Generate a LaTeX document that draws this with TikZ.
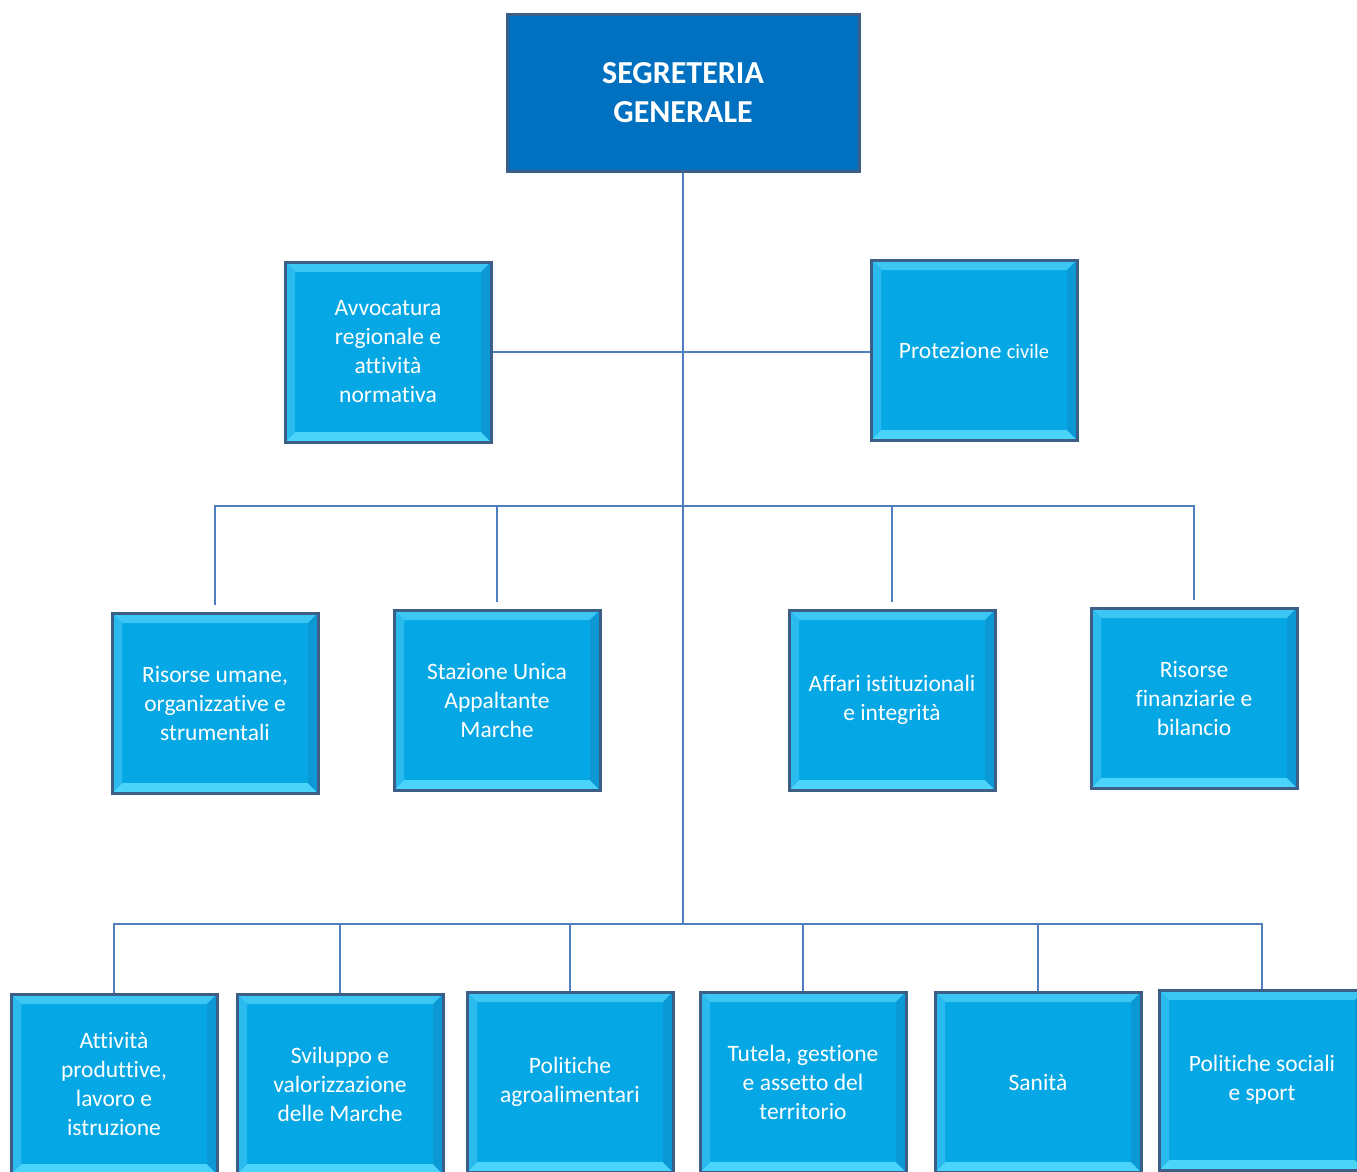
\documentclass[tikz,border=0pt]{standalone}
\usepackage{fontspec}
\setmainfont[Ligatures=NoCommon]{Carlito}
\definecolor{headblue}{HTML}{0070C0}
\definecolor{unitblue}{HTML}{05A8E4}
\definecolor{edgeblue}{HTML}{3D5F87}
\definecolor{linkblue}{HTML}{4F7FBF}
\definecolor{bevtop}{HTML}{3CC6F4}
\definecolor{bevleft}{HTML}{2BBAEE}
\definecolor{bevbottom}{HTML}{4AD4FA}
\definecolor{bevright}{HTML}{0B98D4}
\tikzset{
  link/.style={draw=linkblue, line width=1.6pt},
  headbox/.style={draw=edgeblue, line width=3pt, fill=headblue, minimum width=352pt,
    minimum height=156pt, text=white, align=center,
    font=\bfseries\fontsize{32}{39}\selectfont},
  unitbox/.style={draw=edgeblue, line width=3pt, fill=unitblue, minimum width=206pt,
    minimum height=180pt, inner sep=0pt, text=white, align=center,
    font=\fontsize{23.5}{29}\selectfont,
    path picture={
      \fill[bevtop] (path picture bounding box.north west) -- (path picture bounding box.north east)
        -- ([xshift=-10pt,yshift=-10pt]path picture bounding box.north east)
        -- ([xshift=10pt,yshift=-10pt]path picture bounding box.north west) -- cycle;
      \fill[bevbottom] (path picture bounding box.south west) -- (path picture bounding box.south east)
        -- ([xshift=-10pt,yshift=10pt]path picture bounding box.south east)
        -- ([xshift=10pt,yshift=10pt]path picture bounding box.south west) -- cycle;
      \fill[bevleft] (path picture bounding box.north west) -- (path picture bounding box.south west)
        -- ([xshift=10pt,yshift=10pt]path picture bounding box.south west)
        -- ([xshift=10pt,yshift=-10pt]path picture bounding box.north west) -- cycle;
      \fill[bevright] (path picture bounding box.north east) -- (path picture bounding box.south east)
        -- ([xshift=-10pt,yshift=10pt]path picture bounding box.south east)
        -- ([xshift=-10pt,yshift=-10pt]path picture bounding box.north east) -- cycle;
    }}
}
\begin{document}
\begin{tikzpicture}[x=1pt,y=-1pt]
\fill[white] (0,0) rectangle (1357,1172);
\useasboundingbox (0,0) rectangle (1357,1172);
\clip (0,0) rectangle (1357,1172);

% vertice
\node[headbox] (seg) at (683,93) {SEGRETERIA\\GENERALE};

% staff
\node[unitbox] (avv) at (388,352) {Avvocatura\\regionale e\\attività\\normativa};
\node[unitbox] (prot) at (974,350) {Protezione {\fontsize{20.5}{29}\selectfont civile}};

% secondo livello
\node[unitbox] (rum) at (215,703) {Risorse umane,\\organizzative e\\strumentali};
\node[unitbox] (sua) at (497,700) {Stazione Unica\\Appaltante\\Marche};
\node[unitbox] (aff) at (892,700) {Affari istituzionali\\e integrità};
\node[unitbox] (bil) at (1194,698) {Risorse\\finanziarie e\\bilancio};

% terzo livello
\node[unitbox] (apl) at (114,1084) {Attività\\produttive,\\lavoro e\\istruzione};
\node[unitbox] (svi) at (340,1084) {Sviluppo e\\valorizzazione\\delle Marche};
\node[unitbox] (agr) at (570,1082) {Politiche\\agroalimentari};
\node[unitbox] (tut) at (803,1082) {Tutela, gestione\\e assetto del\\territorio};
\node[unitbox] (san) at (1038,1082) {Sanità};
\node[unitbox] (soc) at (1262,1080) {Politiche sociali\\e sport};

\coordinate (bus2) at (683,506);
\coordinate (bus3) at (683,924);

\draw[link] (seg.south) -- (bus3);
\draw[link] (avv.east) -- (avv.east -| prot.west);
\draw[link, shorten <=7pt] (rum.north) |- (bus2) -| ([yshift=7pt]bil.north);
\draw[link, shorten <=7pt] (sua.north) -- (sua.north |- bus2);
\draw[link, shorten <=7pt] (aff.north) -- (aff.north |- bus2);
\draw[link] (apl.north) |- (bus3) -| (soc.north);
\draw[link] (svi.north) -- (svi.north |- bus3);
\draw[link] (agr.north) -- (agr.north |- bus3);
\draw[link] (tut.north) -- (tut.north |- bus3);
\draw[link] (san.north) -- (san.north |- bus3);
\end{tikzpicture}
\end{document}
